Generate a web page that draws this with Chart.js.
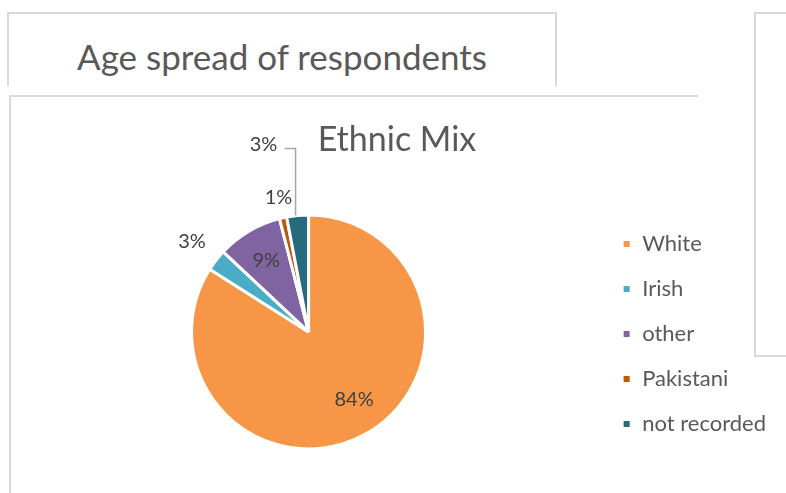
<!DOCTYPE html>
<html>
<head>
<meta charset="utf-8">
<script src="https://cdn.jsdelivr.net/npm/chart.js@4/dist/chart.umd.min.js"></script>
<style>
  html, body { margin: 0; padding: 0; background: #fff; overflow: hidden; }
  body { width: 786px; height: 493px; position: relative; font-family: Lato, sans-serif; }
  .frame { position: absolute; box-sizing: border-box; border: 2px solid #d9d9d9; }
  #back { left: 7px; top: 12px; width: 550px; height: 74px; border-bottom: none; }
  #back div { position: absolute; left: 0; right: 0; top: 21px; text-align: center; font-size: 35px; color: #595959; }
  #right { left: 754px; top: 12px; width: 60px; height: 345px; }
  #front { left: 9px; top: 95px; width: 689px; height: 430px; border-right: none; border-bottom: none; }
  #wrap { position: absolute; left: 10px; top: 96px; width: 776px; height: 397px; }
</style>
</head>
<body>
<div class="frame" id="back"><div>Age spread of respondents</div></div>
<div class="frame" id="right"></div>
<div class="frame" id="front"></div>
<div id="wrap"><canvas id="pie_chart"></canvas></div>
<script>
const categories = ['White', 'Irish', 'other', 'Pakistani', 'not recorded'];
const percents = [84, 3, 9, 1, 3];
const colors = ['#F79646', '#4BACC6', '#8064A2', '#C0580B', '#276A7C'];

// label placement for each slice: inside/outside (fraction of radius), small angle tweak in degrees
const labelPlacement = [
  { r: 0.70, a: -5 },
  { r: 1.26, a: 0 },
  { r: 0.71, a: 0 },
  { r: 1.18, a: 0 },
  { leader: true, dx: -34, dy: -71 }
];

const pieLabels = {
  id: 'pieLabels',
  afterDatasetsDraw(chart) {
    const ctx = chart.ctx;
    const meta = chart.getDatasetMeta(0);
    ctx.save();
    ctx.font = '20px Lato';
    ctx.fillStyle = '#404040';
    ctx.textAlign = 'center';
    ctx.textBaseline = 'middle';
    meta.data.forEach((arc, i) => {
      const p = arc.getProps(['x', 'y', 'startAngle', 'endAngle', 'outerRadius'], true);
      const mid = (p.startAngle + p.endAngle) / 2;
      const spec = labelPlacement[i];
      const text = percents[i] + '%';
      if (spec.leader) {
        const ox = p.x + Math.cos(mid) * p.outerRadius;
        const oy = p.y + Math.sin(mid) * p.outerRadius;
        const lx = ox + spec.dx, ly = oy + spec.dy;
        ctx.fillText(text, lx, ly);
        ctx.strokeStyle = '#a6a6a6';
        ctx.lineWidth = 1.5;
        ctx.beginPath();
        ctx.moveTo(lx + 21, ly + 4);
        ctx.lineTo(ox - 2, ly + 4);
        ctx.lineTo(ox - 2, oy);
        ctx.stroke();
      } else {
        const ang = mid + spec.a * Math.PI / 180;
        const x = p.x + Math.cos(ang) * p.outerRadius * spec.r;
        const y = p.y + Math.sin(ang) * p.outerRadius * spec.r;
        ctx.fillText(text, x, y);
      }
    });
    ctx.restore();
  }
};

const config = {
  type: 'pie',
  data: {
    labels: categories,
    datasets: [{
      data: percents,
      backgroundColor: colors,
      borderColor: '#ffffff',
      borderWidth: 3,
      hoverOffset: 0,
      radius: 117
    }]
  },
  options: {
    responsive: true,
    maintainAspectRatio: false,
    animation: false,
    layout: { padding: { left: 8, right: 10, top: 0, bottom: 35 } },
    plugins: {
      title: {
        display: true,
        text: 'Ethnic Mix',
        color: '#595959',
        font: { family: 'Lato', size: 34, weight: 'normal' },
        padding: { top: 24, bottom: 45 }
      },
      legend: {
        position: 'right',
        align: 'end',
        labels: {
          boxWidth: 9,
          boxHeight: 9,
          padding: 23,
          color: '#595959',
          font: { family: 'Lato', size: 22 }
        }
      },
      tooltip: { enabled: false }
    }
  },
  plugins: [pieLabels]
};

new Chart(document.getElementById('pie_chart').getContext('2d'), config);
</script>
</body>
</html>
